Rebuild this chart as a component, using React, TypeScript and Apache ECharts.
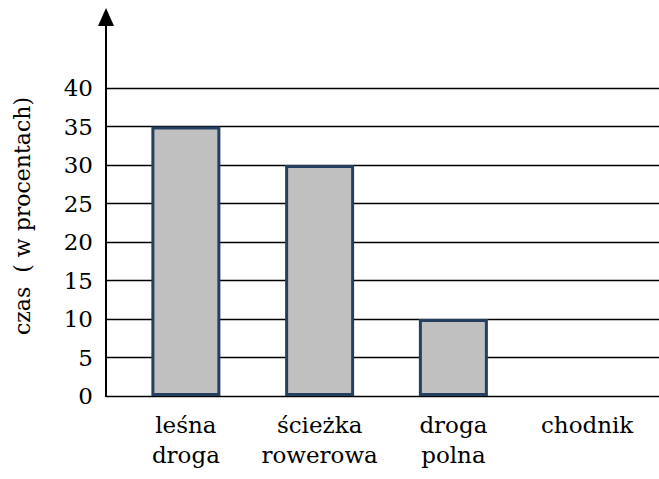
import React, { useEffect, useRef } from "react";
import * as echarts from "echarts";

const categories = ["leśna\ndroga", "ścieżka\nrowerowa", "droga\npolna", "chodnik"];
const values = [35, 30, 10, 0];
const yMin = 0;
const yMax = 40;
const yStep = 5;
const yTitle = "czas  ( w procentach)";

const SERIF = "DejaVu Serif";

export default function App() {
  const ref = useRef<HTMLDivElement>(null);
  useEffect(() => {
    if (!ref.current) return;
    const chart = echarts.init(ref.current, null, { renderer: "svg" });
    chart.setOption({
      animation: false,
      backgroundColor: "#ffffff",
      grid: [
        { left: 106, right: 0, top: 88, bottom: 83 },
        { left: 119, right: 5, top: 88, bottom: 83 },
      ],
      xAxis: [
        { type: "category", gridIndex: 0, data: categories, show: false },
        {
          type: "category",
          gridIndex: 1,
          data: categories,
          axisLine: { show: false },
          axisTick: { show: false },
          axisLabel: {
            color: "#000",
            fontFamily: SERIF,
            fontSize: 23,
            lineHeight: 30,
            margin: 14,
            interval: 0,
          },
        },
      ],
      yAxis: [
        {
          type: "value",
          gridIndex: 0,
          min: yMin,
          max: yMax,
          interval: yStep,
          axisLine: { show: false },
          axisTick: { show: false },
          splitLine: { lineStyle: { color: "#000", width: 1.3 } },
          axisLabel: { color: "#000", fontFamily: SERIF, fontSize: 23, margin: 13 },
        },
        {
          type: "value",
          gridIndex: 1,
          min: yMin,
          max: yMax,
          interval: yStep,
          show: false,
        },
      ],
      series: [
        {
          type: "bar",
          xAxisIndex: 1,
          yAxisIndex: 1,
          data: values.map((v) => (v === 0 ? { value: v, itemStyle: { borderWidth: 0 } } : v)),
          barWidth: 69,
          itemStyle: { color: "#c0c0c0", borderColor: "#243f60", borderWidth: 3 },
        },
      ],
      graphic: [
        {
          type: "line",
          shape: { x1: 106, y1: 397, x2: 106, y2: 22 },
          style: { stroke: "#000", lineWidth: 2 },
          z: 10,
        },
        {
          type: "polygon",
          shape: { points: [[106, 8], [98, 26], [114, 26]] },
          style: { fill: "#000" },
          z: 10,
        },
        {
          type: "text",
          x: 22,
          y: 216,
          rotation: Math.PI / 2,
          style: {
            text: yTitle,
            fill: "#000",
            fontFamily: SERIF,
            fontSize: 22,
            align: "center",
            verticalAlign: "middle",
          },
        },
      ],
    });
    return () => chart.dispose();
  }, []);
  return <div ref={ref} style={{ width: 659, height: 479, position: "absolute", left: 0, top: 0 }} />;
}
